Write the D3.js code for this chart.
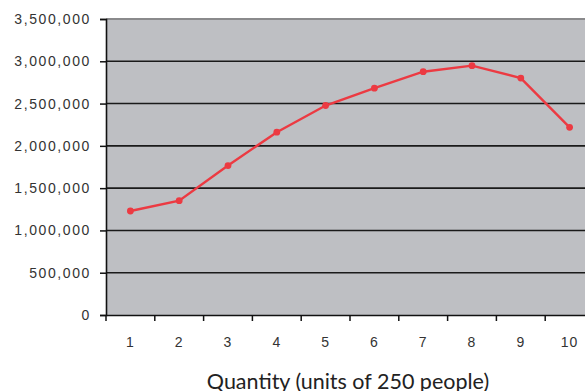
<!DOCTYPE html>
<html><head><meta charset="utf-8">
<script src="https://cdn.jsdelivr.net/npm/d3@7"></script>
<style>body{margin:0;background:#fff;}svg{display:block;}</style>
</head><body>
<script>
const categories = ["1","2","3","4","5","6","7","8","9","10"];
const values = [1230000, 1352000, 1767000, 2162000, 2477000, 2682000, 2877000, 2948000, 2802000, 2219000];
const yTicks = [0, 500000, 1000000, 1500000, 2000000, 2500000, 3000000, 3500000];
const xTitle = "Quantity (units of 250 people)";

const W = 585, H = 391;
const m = {left: 106, top: 19, right: -9, bottom: 76};
const svg = d3.select("body").append("svg").attr("width", W).attr("height", H);
const x = d3.scaleBand().domain(categories).range([m.left, W - m.right]);
const y = d3.scaleLinear().domain([0, 3500000]).range([H - m.bottom, m.top]);

svg.append("rect").attr("x", m.left).attr("y", m.top)
  .attr("width", W - m.right - m.left).attr("height", y(0) - m.top).attr("fill", "#bebfc3");

// gridlines
svg.append("g").selectAll("line").data(yTicks.filter(d => d > 0 && d < 3500000)).join("line")
  .attr("x1", m.left).attr("x2", W - m.right).attr("y1", d => y(d)).attr("y2", d => y(d))
  .attr("stroke", "#1a1a1a").attr("stroke-width", 1.6);
// top border
svg.append("line").attr("x1", m.left).attr("x2", W - m.right).attr("y1", y(3500000)).attr("y2", y(3500000))
  .attr("stroke", "#8a8a8c").attr("stroke-width", 2);

// y axis
const yAxis = d3.axisLeft(y).tickValues(yTicks).tickSize(6).tickPadding(9)
  .tickFormat(d3.format(","));
const gy = svg.append("g").attr("transform", `translate(${m.left},0)`).call(yAxis);
gy.select(".domain").attr("stroke", "#111").attr("stroke-width", 1.6);
gy.selectAll(".tick line").attr("stroke", "#111").attr("stroke-width", 1.5);
gy.selectAll("text").attr("font-family", "Liberation Sans, Arial, sans-serif")
  .attr("font-size", 14).attr("fill", "#333").style("letter-spacing", "1.6px");

// x axis
const xAxis = d3.axisBottom(x).tickSize(0).tickPadding(22);
const gx = svg.append("g").attr("transform", `translate(0,${y(0)})`).call(xAxis);
gx.select(".domain").attr("stroke", "#111").attr("stroke-width", 1.6);
gx.selectAll("text").attr("font-family", "Liberation Sans, Arial, sans-serif")
  .attr("font-size", 14).attr("fill", "#333").style("letter-spacing", "1px");
// boundary ticks
const bounds = categories.map(c => x(c)).concat([x(categories[categories.length-1]) + x.bandwidth()]);
svg.append("g").selectAll("line").data(bounds).join("line")
  .attr("x1", d => d).attr("x2", d => d).attr("y1", y(0)).attr("y2", y(0) + 6)
  .attr("stroke", "#111").attr("stroke-width", 1.5);

// line
const line = d3.line().x((d, i) => x(categories[i]) + x.bandwidth() / 2).y(d => y(d));
svg.append("path").datum(values).attr("d", line).attr("fill", "none")
  .attr("stroke", "#ec3a42").attr("stroke-width", 2.4);
svg.append("g").selectAll("circle").data(values).join("circle")
  .attr("cx", (d, i) => x(categories[i]) + x.bandwidth() / 2).attr("cy", d => y(d))
  .attr("r", 3.4).attr("fill", "#ec3a42");

svg.append("text").attr("x", 348).attr("y", 389).attr("text-anchor", "middle")
  .attr("font-family", "Lato, 'Open Sans', sans-serif").attr("font-size", 21.5).attr("fill", "#222")
  .text(xTitle);
</script>
</body></html>
